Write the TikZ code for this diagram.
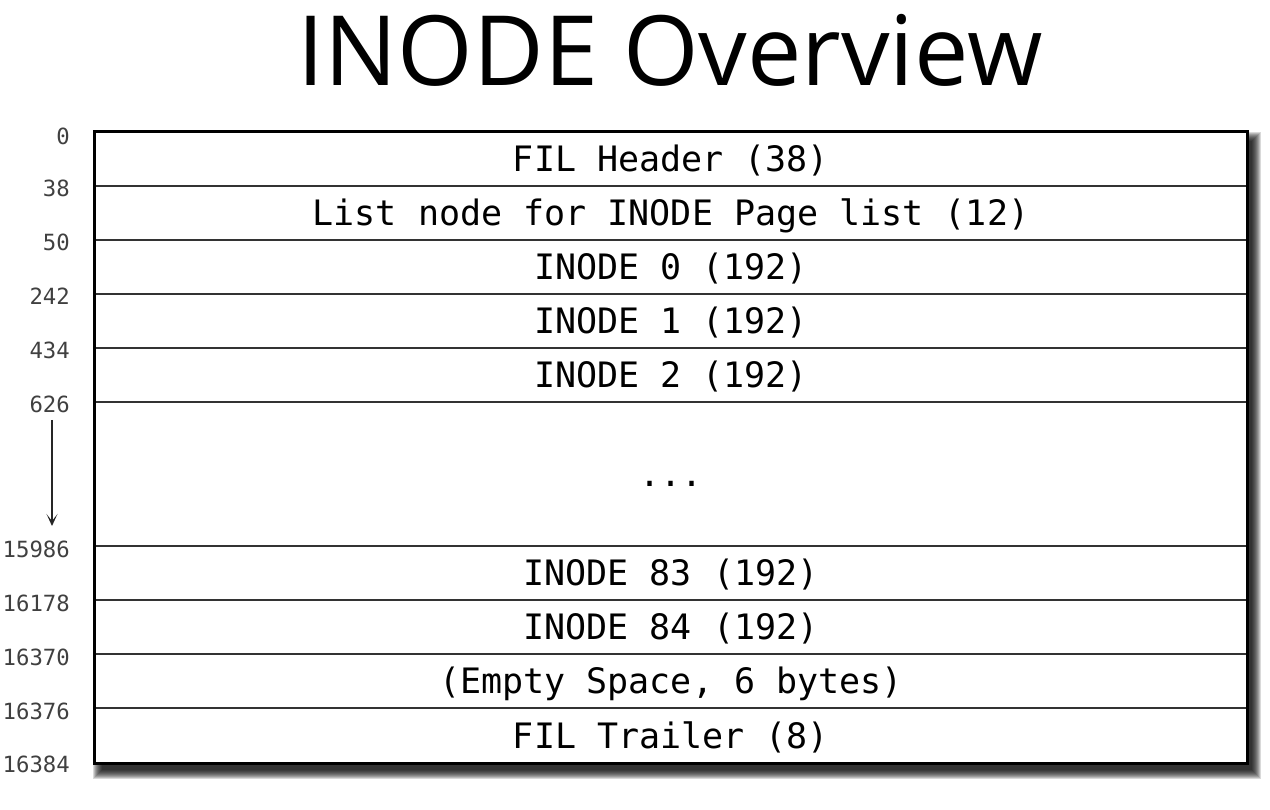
\documentclass[tikz,border=0pt]{standalone}
\usepackage{fontspec}
\setmainfont{Open Sans}
\setmonofont{DejaVu Sans Mono}
\usetikzlibrary{arrows.meta}

\tikzset{
  field/.style={draw=black!80, line width=1.3pt, fill=white, inner sep=0pt,
    minimum width=1152pt, minimum height=54pt, text height=26pt, text depth=1pt,
    font=\fontsize{35}{38}\selectfont\ttfamily},
  offset/.style={anchor=east, inner sep=0pt, text=black!75,
    font=\fontsize{22.3}{25}\selectfont\ttfamily},
}

\begin{document}
\begin{tikzpicture}[x=1pt, y=-1pt]
  \useasboundingbox (0,0) rectangle (1270,810);

  % タイトル
  \node[font=\fontsize{97}{106}\selectfont] (title) at (670,50) {INODE Overview};

  % 影（ぼかし）
  \foreach \e in {0,...,9}
    \fill[black, opacity=0.15] (102-\e,141-\e) rectangle (1252+\e,770+\e);

  % ページの各フィールド
  \node[field] (fil)     at (671,159) {FIL Header (38)};
  \node[field] (list)    at (671,213) {List node for INODE Page list (12)};
  \node[field] (ino0)    at (671,267) {INODE 0 (192)};
  \node[field] (ino1)    at (671,321) {INODE 1 (192)};
  \node[field] (ino2)    at (671,375) {INODE 2 (192)};
  \node[field, minimum height=144pt] (dots) at (671,474) {...};
  \node[field] (ino83)   at (671,573) {INODE 83 (192)};
  \node[field] (ino84)   at (671,627) {INODE 84 (192)};
  \node[field] (empty)   at (671,681) {(Empty Space, 6 bytes)};
  \node[field, minimum height=55pt] (trailer) at (671,735.5) {FIL Trailer (8)};

  % 外枠
  \draw[line width=2.4pt] (fil.north west) rectangle (trailer.south east);

  % オフセット
  \node[offset] (o0)     at (70,136) {0};
  \node[offset] (o38)    at (70,188) {38};
  \node[offset] (o50)    at (70,242) {50};
  \node[offset] (o242)   at (70,296) {242};
  \node[offset] (o434)   at (70,350) {434};
  \node[offset] (o626)   at (70,404) {626};
  \node[offset] (o15986) at (70,549) {15986};
  \node[offset] (o16178) at (70,603) {16178};
  \node[offset] (o16370) at (70,657) {16370};
  \node[offset] (o16376) at (70,711) {16376};
  \node[offset] (o16384) at (70,764) {16384};

  % 矢印
  \coordinate (gaptop) at (52,420);
  \coordinate (gapbot) at (52,526);
  \draw[line width=1.4pt, black!85, -{Stealth[length=12pt, width=11pt, inset=7pt]}]
    (gaptop) -- (gapbot);
\end{tikzpicture}
\end{document}
